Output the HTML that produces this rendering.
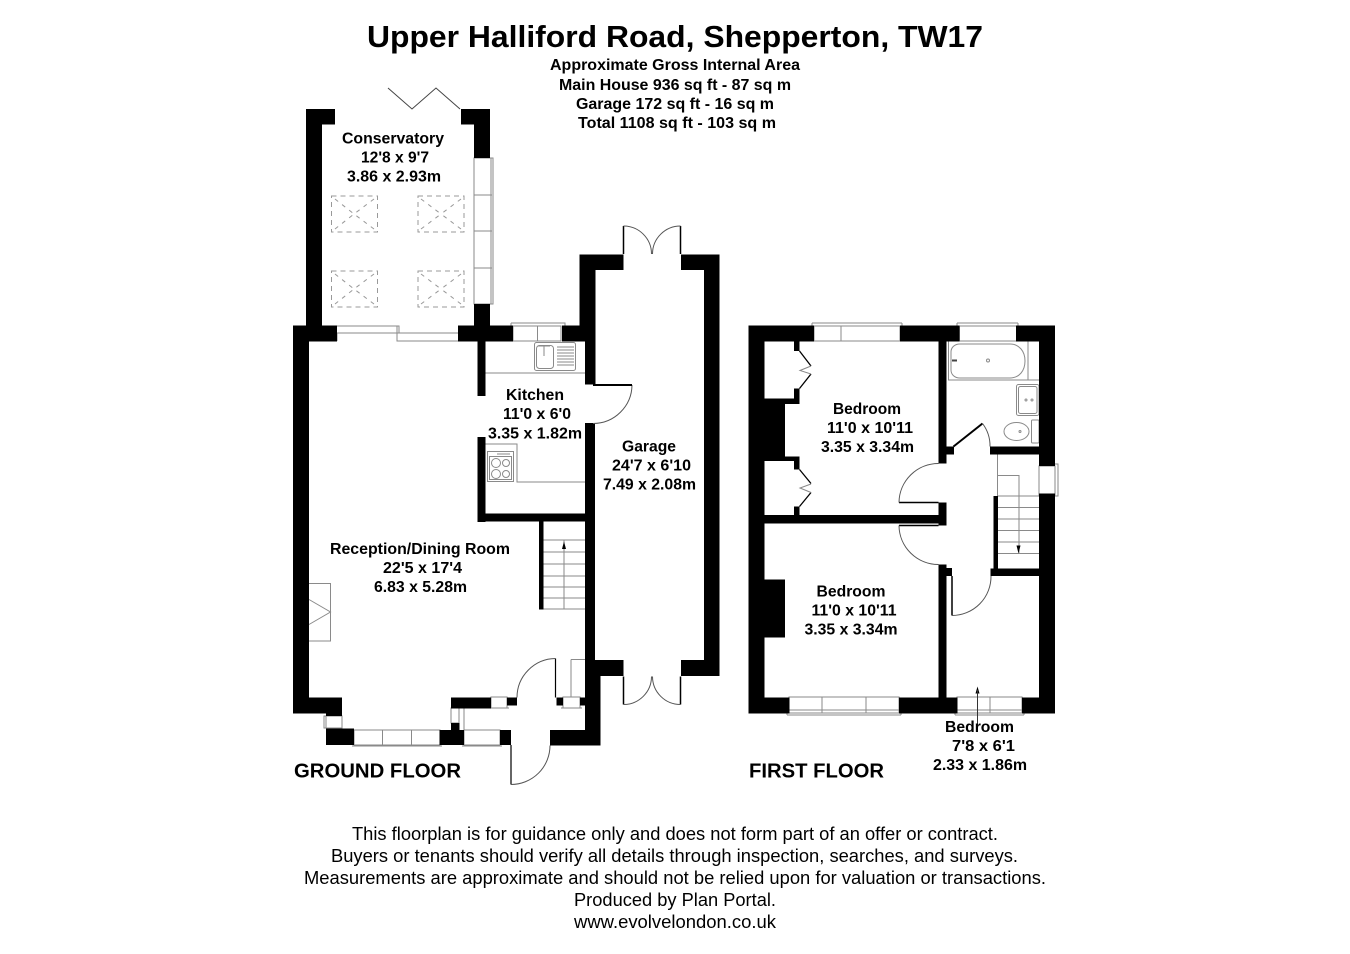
<!DOCTYPE html>
<html><head><meta charset="utf-8"><style>
html,body{margin:0;padding:0;background:#fff}
svg{display:block}
text{font-family:"Liberation Sans",Arial,sans-serif;fill:#000}
.b{font-weight:bold;font-size:16px}
.f{font-size:18px}
.g{fill:none;stroke:#8a8a8a;stroke-width:1}
.d{fill:none;stroke:#999;stroke-width:1;stroke-dasharray:5 4}
</style></head><body>
<svg width="1350" height="954" viewBox="0 0 1350 954" xmlns="http://www.w3.org/2000/svg">
<rect width="1350" height="954" fill="#fff"/>

<!-- windows / fine details beneath walls -->
<g class="g">
<!-- conservatory side window -->
<rect x="474" y="158" width="17" height="146"/><path d="M490 158h3v146h-3M474 195h18M474 231h18M474 268h18"/>
<!-- sliding doors -->
<path d="M337 326h62v7h-62M337 333v8M397 333v8h61M397 333h61M397 333v-7"/>
<!-- kitchen window -->
<path d="M511 323h54v3M511 323v3M513 326h48v15h-48zM537.500 326v15"/>
<!-- kitchen worktop -->
<path d="M485 373h100"/>
<rect x="534.500" y="342.500" width="41" height="28" rx="2"/>
<rect x="536.500" y="345.500" width="17" height="23" rx="3"/>
<path d="M557 347h17M557 350h17M557 353h17M557 356h17M557 359h17M557 362h17M557 365h17"/>
<path d="M538 346h12M544 346v10"/>
<!-- cooker -->
<path d="M485 444h32v38h68"/>
<rect x="487.500" y="451.500" width="26" height="30"/>
<rect x="489.500" y="456.500" width="22" height="23"/>
<circle cx="496" cy="463" r="4.500"/><circle cx="506" cy="463" r="3.500"/><circle cx="496" cy="474" r="4.500"/><circle cx="506" cy="474" r="3.500"/>
<path d="M497 454h13"/>
<!-- ground stairs -->
<path d="M543 540h42M543 552h42M543 564h42M543 576h42M543 587h42M543 598h42M543 609h42M564 540v69"/>
<!-- fireplace -->
<path d="M309 583.500h21.500v57.500h-21.500M309 599.500l21.500 12.500l-21.500 12.500"/>
<!-- meter cupboard -->
<path d="M571 659.500h14M571 659.500v38"/>
<!-- ground front windows -->
<path d="M324 716h18v12h-18zM326 716v12"/>
<path d="M354 730h86v15h-86zM352 746h90M382.500 730v15M411.500 730v15"/>
<path d="M451 708h8v15h-8zM464 708v22M459 705h5"/>
<path d="M464 730h36v15h-36zM462 746h40"/>
<path d="M491 697h16v11h-16zM489 708h20"/>
<path d="M563 697h17v11h-17zM561 708h21"/>
<!-- first floor windows -->
<path d="M812 323h90M812 323v3M902 323v3M814 326h86v15h-86zM841 326v15"/>
<path d="M957 323h61M957 323v3M1018 323v3M959.500 326h57v15h-57z"/>
<path d="M789 697h110v16h-110zM787 715h114M787 715v-2M901 715v-2M822 697v16M866 697v16M789 710h110"/>
<path d="M957 697h65v16h-65zM955 715h69M955 715v-2M1024 715v-2M990 697v16M957 710h65"/>
<path d="M1039 466h16v30h-16zM1055 464h3v32h-3"/>
<!-- bath -->
<path d="M948.500 341v39h79.500v-39M1028 380h11"/>
<path d="M960 344h50c9 0 15 7 15 17s-6 17-15 17h-50c-6 0-9-4-9-8v-18c0-4 3-8 9-8z"/>
<path d="M952 360.500h5" stroke="#444" stroke-width="2"/>
<rect x="1016.500" y="384.500" width="22.500" height="31" rx="2"/>
<rect x="1018.500" y="386.500" width="18.500" height="27" rx="2"/>
<ellipse cx="1016.500" cy="431.500" rx="12.500" ry="9"/>
<rect x="1031.500" y="420" width="7.500" height="23" rx="1"/>
<circle cx="988" cy="360.500" r="1.500"/><circle cx="1026" cy="400" r="1"/><circle cx="1032" cy="400" r="1"/><circle cx="1020" cy="431.500" r="1"/>
<!-- first floor stairs -->
<path d="M997.500 454v42M998 475.500h21v78M998 496h41M998 507.500h41M998 519h41M998 530.500h41M998 542h41M998 553.500h41"/>
</g>

<!-- skylights -->
<g class="d">
<rect x="331.500" y="196" width="46" height="36"/><rect x="418" y="196" width="46" height="36"/><rect x="331.500" y="271" width="46" height="36"/><rect x="418" y="271" width="46" height="36"/>
<path d="M335 199l19 15M374 199l-20 15M335 229l19-15M374 229l-20-15M421 199l20 15M461 199l-20 15M421 229l20-15M461 229l-20-15M335 274l19 15M374 274l-20 15M335 304l19-15M374 304l-20-15M421 274l20 15M461 274l-20 15M421 304l20-15M461 304l-20-15" stroke-dasharray="4 5"/>
</g>

<!-- WALLS -->
<g fill="#000">
<!-- conservatory -->
<rect x="306" y="109" width="16" height="217"/>
<rect x="306" y="109" width="29" height="15.500"/>
<rect x="461" y="109" width="29" height="15.500"/>
<rect x="474" y="109" width="16" height="49"/>
<rect x="474" y="304" width="16" height="22"/>
<rect x="293" y="325.500" width="44" height="16"/>
<rect x="458" y="325.500" width="55" height="16"/>
<!-- reception -->
<rect x="293" y="325.500" width="16" height="388"/>
<rect x="293" y="697.500" width="49" height="16"/>
<rect x="326" y="713" width="16" height="3"/>
<rect x="326" y="728.500" width="28" height="16.500"/>
<rect x="439.500" y="730" width="24.500" height="15"/>
<rect x="451" y="723" width="8.500" height="8"/>
<rect x="451" y="697.500" width="40" height="11"/>
<rect x="507" y="697.500" width="10" height="8"/>
<rect x="556.500" y="697.500" width="6.500" height="8"/>
<rect x="580" y="697.500" width="6" height="8"/>
<rect x="500" y="730" width="11" height="15"/>
<rect x="550" y="730" width="50.500" height="15.500"/>
<rect x="585" y="676" width="15.500" height="69"/>
<rect x="585" y="423" width="10" height="265"/>
<!-- kitchen -->
<rect x="477.500" y="341" width="8" height="55"/>
<rect x="477.500" y="437" width="8" height="85"/>
<rect x="477.500" y="513.500" width="108" height="8"/>
<rect x="539" y="521" width="4.500" height="88.500"/>
<rect x="562" y="325.500" width="26" height="16"/>
<!-- garage -->
<rect x="579.500" y="254.500" width="16" height="87"/>
<rect x="585" y="254.500" width="10.500" height="130"/>
<rect x="579.500" y="254.500" width="44" height="15.500"/>
<rect x="681" y="254.500" width="38.500" height="15.500"/>
<rect x="704" y="254.500" width="15.500" height="421.500"/>
<rect x="681" y="660" width="38.500" height="16"/>
<rect x="585" y="660" width="38.500" height="16"/>
<!-- first floor outer -->
<rect x="748.500" y="325.500" width="16" height="388"/>
<rect x="748.500" y="325.500" width="65.500" height="16"/>
<rect x="900" y="325.500" width="59.500" height="16"/>
<rect x="1016" y="325.500" width="39" height="16"/>
<rect x="1039" y="325.500" width="16" height="140.500"/>
<rect x="1039" y="493.500" width="16" height="220"/>
<rect x="748.500" y="697.500" width="41" height="16"/>
<rect x="899" y="697.500" width="58.500" height="16"/>
<rect x="1022" y="697.500" width="33" height="16"/>
<!-- first floor internal -->
<rect x="938.500" y="341" width="8" height="122.500"/>
<rect x="946" y="446.500" width="8" height="8"/>
<rect x="938.500" y="502.500" width="8" height="23"/>
<rect x="764" y="515" width="175" height="8.500"/>
<rect x="938.500" y="564.500" width="8" height="134"/>
<rect x="946" y="568" width="6" height="8"/>
<rect x="990" y="446.500" width="49" height="8"/>
<rect x="993.500" y="496" width="4.500" height="72.500"/>
<rect x="990.500" y="568.500" width="49" height="7.500"/>
<!-- closets / chimney -->
<rect x="794" y="341" width="5.500" height="10"/>
<rect x="794" y="388.500" width="5.500" height="11"/>
<rect x="764" y="398.500" width="35.500" height="5.500"/>
<rect x="764" y="404" width="21" height="53"/>
<rect x="764" y="456.500" width="35.500" height="4.500"/>
<rect x="794" y="460.500" width="5.500" height="9"/>
<rect x="794" y="506.500" width="5.500" height="9"/>
<rect x="764" y="579.500" width="21" height="58"/>
</g>

<!-- doors -->
<g fill="none" stroke="#555" stroke-width="1">
<path d="M388 88l24 21 l24-21 l24 21" stroke="#444"/>
<path d="M623.500 226v28M680.500 226v28" stroke="#000" stroke-width="1.500"/>
<path d="M623.500 226a28 28 0 0 1 28 28M680.500 226a28 28 0 0 0-28 28"/>
<path d="M623.500 704.500v-28M680.500 704.500v-28" stroke="#000" stroke-width="1.500"/>
<path d="M623.500 704.500a28 28 0 0 0 28-28M680.500 704.500a28 28 0 0 1-28-28"/>
<path d="M632 385a39 39 0 0 1-39 38.500"/>
<path d="M593 385h39" stroke="#000" stroke-width="2"/>
<path d="M511 745v39.500" stroke="#000" stroke-width="1.200"/>
<path d="M511 784.500a39 39 0 0 0 39-39"/>
<path d="M555.500 658.500v39" stroke="#000" stroke-width="1.200"/>
<path d="M555.500 658.500a39 39 0 0 0-38.500 39"/>
<!-- bathroom door -->
<path d="M953.500 446.500l29-23" stroke="#000" stroke-width="2"/>
<path d="M982.500 423.500a37 37 0 0 1 7.500 23"/>
<!-- bedroom doors -->
<path d="M899 502.500h39.500" stroke="#000" stroke-width="1.500"/>
<path d="M899 502.500a39.500 39.500 0 0 1 39.500-39"/>
<path d="M899 525.500h39.500" stroke="#000" stroke-width="1.500"/>
<path d="M899 525.500a39.500 39.500 0 0 0 39.500 39"/>
<path d="M952 576v39.500" stroke="#000" stroke-width="1.500"/>
<path d="M952 615.500a39 39 0 0 0 39-39.500"/>
<!-- closet doors -->
<path d="M799.500 351l11.500 15M811 374l-11.500 14.500M799.500 469.500l11.500 14M811 492.500l-11.500 14" stroke="#000" stroke-width="1.300"/>
<path d="M811 366l-11 4.500 11 3.500M811 484l-11 4 11 4.500" stroke="#888"/>
</g>

<!-- small arrows -->
<g fill="#000">
<path d="M564 541.500l-2 7.500h4z"/>
<path d="M1018.500 553.500l-2-8h4z"/>
<path d="M977.500 686.500l-2 7h4z"/>
</g>
<path d="M977.500 690v35" stroke="#333" stroke-width="1" fill="none"/>

<!-- TITLE -->
<text x="367" y="47" font-size="31" font-weight="bold" textLength="616" lengthAdjust="spacingAndGlyphs">Upper Halliford Road, Shepperton, TW17</text>
<text class="b" x="550" y="70" textLength="250" lengthAdjust="spacingAndGlyphs">Approximate Gross Internal Area</text>
<text class="b" x="559" y="90" textLength="232" lengthAdjust="spacingAndGlyphs">Main House 936 sq ft - 87 sq m</text>
<text class="b" x="576" y="109" textLength="198" lengthAdjust="spacingAndGlyphs">Garage 172 sq ft - 16 sq m</text>
<text class="b" x="578" y="128" textLength="198" lengthAdjust="spacingAndGlyphs">Total 1108 sq ft - 103 sq m</text>

<!-- LABELS -->
<text class="b" x="342" y="143.300" textLength="102" lengthAdjust="spacingAndGlyphs">Conservatory</text>
<text class="b" x="361" y="162.500" textLength="68" lengthAdjust="spacingAndGlyphs">12'8 x 9'7</text>
<text class="b" x="347" y="181.500" textLength="94" lengthAdjust="spacingAndGlyphs">3.86 x 2.93m</text>

<text class="b" x="506" y="400" textLength="58" lengthAdjust="spacingAndGlyphs">Kitchen</text>
<text class="b" x="503" y="419" textLength="68" lengthAdjust="spacingAndGlyphs">11'0 x 6'0</text>
<text class="b" x="488" y="438.300" textLength="94" lengthAdjust="spacingAndGlyphs">3.35 x 1.82m</text>

<text class="b" x="622" y="451.700" textLength="54" lengthAdjust="spacingAndGlyphs">Garage</text>
<text class="b" x="612" y="470.700" textLength="79" lengthAdjust="spacingAndGlyphs">24'7 x 6'10</text>
<text class="b" x="603" y="489.700" textLength="93" lengthAdjust="spacingAndGlyphs">7.49 x 2.08m</text>

<text class="b" x="330" y="554" textLength="180" lengthAdjust="spacingAndGlyphs">Reception/Dining Room</text>
<text class="b" x="383" y="573" textLength="79" lengthAdjust="spacingAndGlyphs">22'5 x 17'4</text>
<text class="b" x="374" y="592" textLength="93" lengthAdjust="spacingAndGlyphs">6.83 x 5.28m</text>

<text class="b" x="833" y="414" textLength="68" lengthAdjust="spacingAndGlyphs">Bedroom</text>
<text class="b" x="827" y="433" textLength="86" lengthAdjust="spacingAndGlyphs">11'0 x 10'11</text>
<text class="b" x="821" y="452" textLength="93" lengthAdjust="spacingAndGlyphs">3.35 x 3.34m</text>

<text class="b" x="816.500" y="596.500" textLength="69" lengthAdjust="spacingAndGlyphs">Bedroom</text>
<text class="b" x="811.500" y="615.500" textLength="85" lengthAdjust="spacingAndGlyphs">11'0 x 10'11</text>
<text class="b" x="804.500" y="634.500" textLength="93" lengthAdjust="spacingAndGlyphs">3.35 x 3.34m</text>

<text class="b" x="945" y="732" textLength="69" lengthAdjust="spacingAndGlyphs">Bedroom</text>
<text class="b" x="952" y="751" textLength="63" lengthAdjust="spacingAndGlyphs">7'8 x 6'1</text>
<text class="b" x="933" y="770" textLength="94" lengthAdjust="spacingAndGlyphs">2.33 x 1.86m</text>

<text x="294" y="777.500" font-size="20.500" font-weight="bold" textLength="167" lengthAdjust="spacingAndGlyphs">GROUND FLOOR</text>
<text x="749" y="777.500" font-size="20.500" font-weight="bold" textLength="135" lengthAdjust="spacingAndGlyphs">FIRST FLOOR</text>

<!-- FOOTER -->
<text class="f" x="352" y="840" textLength="646" lengthAdjust="spacingAndGlyphs">This floorplan is for guidance only and does not form part of an offer or contract.</text>
<text class="f" x="331" y="862" textLength="687" lengthAdjust="spacingAndGlyphs">Buyers or tenants should verify all details through inspection, searches, and surveys.</text>
<text class="f" x="304" y="884" textLength="742" lengthAdjust="spacingAndGlyphs">Measurements are approximate and should not be relied upon for valuation or transactions.</text>
<text class="f" x="574" y="906" textLength="202" lengthAdjust="spacingAndGlyphs">Produced by Plan Portal.</text>
<text class="f" x="574" y="928" textLength="202" lengthAdjust="spacingAndGlyphs">www.evolvelondon.co.uk</text>
</svg>
</body></html>
